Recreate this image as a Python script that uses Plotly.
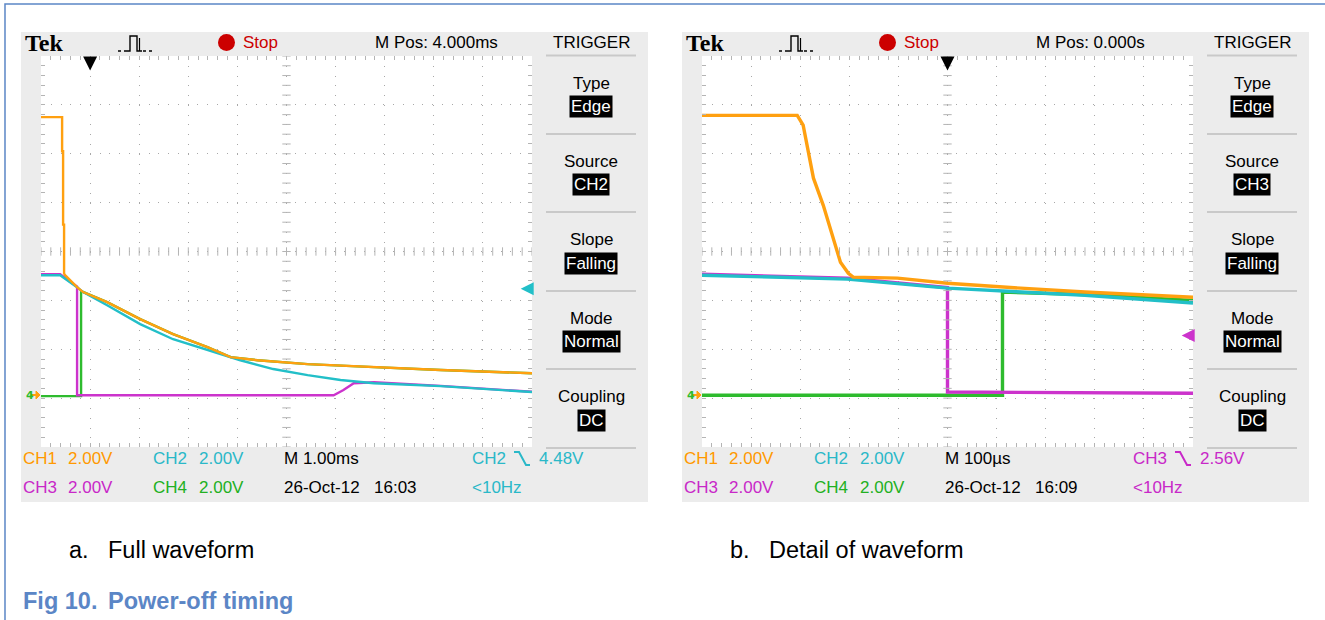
import numpy as np
import plotly.graph_objects as go

# ---------------- data ----------------
# (a) Full waveform: time in ms (trigger at 0), 2 V/div, volts
full_t_ch1 = [-1.0, -0.57, -0.57, -0.55, -0.55, -0.53, -0.53, -0.51, -0.265, -0.143, 0.347, 1.02, 1.69, 2.39, 2.86, 3.41, 4.43, 5.78, 7.14, 9.0]
full_v_ch1 = [11.5, 11.5, 10.1, 10.1, 7.1, 7.1, 5.1, 5.03, 4.54, 4.34, 3.93, 3.23, 2.62, 2.09, 1.68, 1.55, 1.39, 1.27, 1.15, 1.02]
full_t_ch2 = [-1.0, -0.61, -0.265, -0.143, 0.347, 1.02, 1.69, 2.39, 3.06, 3.73, 4.43, 5.10, 5.78, 7.14, 9.0]
full_v_ch2 = [5.03, 5.03, 4.54, 4.34, 3.80, 3.03, 2.41, 1.96, 1.55, 1.19, 0.94, 0.74, 0.61, 0.49, 0.25]
full_t_ch3 = [-1.0, -0.61, -0.265, -0.265, 4.96, 5.16, 5.37, 5.78, 7.14, 9.0]
full_v_ch3 = [5.07, 5.07, 4.56, 0.12, 0.12, 0.33, 0.61, 0.65, 0.50, 0.26]
full_t_ch4 = [-1.0, -0.184, -0.184, 0.347, 1.02, 1.69, 2.39, 2.86, 3.41, 4.43, 5.78, 7.14, 9.0]
full_v_ch4 = [0.08, 0.08, 4.38, 3.93, 3.23, 2.62, 2.09, 1.68, 1.55, 1.39, 1.27, 1.15, 1.02]
full_trig_t, full_trig_v = 0.0, 4.48

# (b) Detail of waveform: time in us (trigger at 0), volts
det_t_ch1 = [-500, -306, -294, -286, -273, -253, -233, -218, -202, -192, -102, 0, 149, 280, 500]
det_v_ch1 = [11.57, 11.57, 11.17, 10.35, 9.0, 7.89, 6.54, 5.56, 5.11, 4.95, 4.91, 4.70, 4.50, 4.34, 4.13]
det_t_ch2 = [-500, -320, -204, 0, 108, 280, 500]
det_v_ch2 = [5.03, 4.95, 4.87, 4.50, 4.38, 4.21, 3.89]
det_t_ch3 = [-500, -320, -204, 0, 0, 500]
det_v_ch3 = [5.07, 4.99, 4.91, 4.52, 0.25, 0.20]
det_t_ch4 = [-500, 112, 112, 280, 500]
det_v_ch4 = [0.12, 0.12, 4.34, 4.24, 4.0]
det_trig_t, det_trig_v = 0.0, 2.56

# axis ranges (10 x 8 divisions)
full_xrange = [-1.0, 9.0]
det_xrange = [-500.0, 500.0]
volt_range = [-2.0, 14.0]

# texts
menu_titles = ["Type", "Source", "Slope", "Mode", "Coupling"]
menu_values_a = ["Edge", "CH2", "Falling", "Normal", "DC"]
menu_values_b = ["Edge", "CH3", "Falling", "Normal", "DC"]
mpos_a, mpos_b = "M Pos: 4.000ms", "M Pos: 0.000s"
mscale_a, mscale_b = "M 1.00ms", "M 100µs"
date_a, time_a = "26-Oct-12", "16:03"
date_b, time_b = "26-Oct-12", "16:09"
trig_src_a, trig_lvl_a = "CH2", "4.48V"
trig_src_b, trig_lvl_b = "CH3", "2.56V"
caption_a = ("a.", "Full waveform")
caption_b = ("b.", "Detail of waveform")
fig_title = ("Fig 10.", "Power-off timing")

# ---------------- style ----------------
W, H = 1325, 620
C1, C2, C3, C4 = "#ffa010", "#22bfc8", "#cc33cc", "#2ebb2e"
T1, T2, T3, T4 = "#ff9900", "#2ab8c8", "#c828c8", "#22b022"
PANEL = "#ececec"
GRID_C = "#a8a8a8"
TICK_C = "#b4b4b4"
SEP_C = "#c9c9c9"
SCOPE_FONT = "Liberation Sans, Arial, sans-serif"
CAP_FONT = "Liberation Sans, Arial, sans-serif"
BLUE = "#5b86c6"
FS = 17

SHIFT = 661  # pixel offset of the second screenshot
GX0, GX1, GY0, GY1 = 41, 532, 56, 447


def px(x):
    return x / W


def py(y):
    return 1 - y / H


fig = go.Figure()

shapes = []
annotations = []


def txt(x, y, text, color="black", size=FS, font=SCOPE_FONT, xanchor="left", **kw):
    annotations.append(dict(x=px(x), y=py(y), xref="paper", yref="paper", text=text,
                            showarrow=False, xanchor=xanchor, yanchor="middle",
                            font=dict(family=font, size=size, color=color), **kw))


def rect(x0, y0, x1, y1, fill, line=None):
    shapes.append(dict(type="rect", xref="paper", yref="paper", x0=px(x0), x1=px(x1),
                       y0=py(y1), y1=py(y0), fillcolor=fill,
                       line=dict(width=0) if line is None else line, layer="below"))


def path(points, color, width=1.5, dash="solid"):
    d = "M " + " L ".join(f"{px(a):.5f},{py(b):.5f}" for a, b in points)
    shapes.append(dict(type="path", xref="paper", yref="paper", path=d,
                       line=dict(color=color, width=width, dash=dash), layer="above"))


# blue frame
path([(5, 620), (5, 4), (1325, 4)], BLUE, 1.5)

panels = [
    dict(off=0, xa="x", ya="y", xr=full_xrange, xd=1.0,
         data=[(full_t_ch4, full_v_ch4, C4), (full_t_ch3, full_v_ch3, C3),
               (full_t_ch2, full_v_ch2, C2), (full_t_ch1, full_v_ch1, C1)],
         lw=2.4, trig_t=full_trig_t, trig_v=full_trig_v, trig_col=C2,
         menu=menu_values_a, mpos=mpos_a, mscale=mscale_a, date=date_a, time=time_a,
         tsrc=trig_src_a, tlvl=trig_lvl_a, tcol=T2),
    dict(off=SHIFT, xa="x2", ya="y2", xr=det_xrange, xd=100.0,
         data=[(det_t_ch4, det_v_ch4, C4), (det_t_ch3, det_v_ch3, C3),
               (det_t_ch2, det_v_ch2, C2), (det_t_ch1, det_v_ch1, C1)],
         lw=3.4, trig_t=det_trig_t, trig_v=det_trig_v, trig_col=C3,
         menu=menu_values_b, mpos=mpos_b, mscale=mscale_b, date=date_b, time=time_b,
         tsrc=trig_src_b, tlvl=trig_lvl_b, tcol=T3),
]

for i, p in enumerate(panels):
    o = p["off"]
    # gray scope panel and white graticule area
    rect(21 + o, 32, 648 + o, 502, PANEL)
    rect(GX0 + o, GY0, GX1 + o, GY1, "white")
    # menu separators
    for yy in [55.5, 134, 212, 291, 369, 448]:
        path([(546 + o, yy), (636 + o, yy)], SEP_C, 2)
    # menu texts
    txt(591.5 + o, 42, "TRIGGER", xanchor="center")
    for k, (t, v) in enumerate(zip(menu_titles, p["menu"])):
        yt = 83 + 78.4 * k
        txt(591 + o, yt, t, xanchor="center")
        txt(591 + o, yt + 23.5, v, color="white", xanchor="center", bgcolor="black", borderpad=1)
    # top bar
    txt(23 + o, 43, "<b>Tek</b>", size=24, font="Liberation Serif, serif")
    path([(118 + o, 51), (127 + o, 51)], "black", 1.4, "dot")
    path([(127 + o, 51), (130 + o, 51), (130 + o, 36), (137 + o, 36), (137 + o, 51), (142 + o, 51)], "black", 1.4)
    path([(139.5 + o, 38), (139.5 + o, 51)], "black", 1.2)
    path([(143 + o, 51), (155 + o, 51)], "black", 1.4, "dot")
    shapes.append(dict(type="circle", xref="paper", yref="paper", x0=px(218 + o), x1=px(235 + o),
                       y0=py(51), y1=py(34), fillcolor="#cc0000", line=dict(width=0)))
    txt(241 + o, 42, "Stop", color="#cc0000")
    txt(373 + o, 42, p["mpos"])
    # bottom readouts
    txt(21 + o, 458, "CH1", color=T1)
    txt(66 + o, 458, "2.00V", color=T1)
    txt(151 + o, 458, "CH2", color=T2)
    txt(197 + o, 458, "2.00V", color=T2)
    txt(282 + o, 458, p["mscale"])
    txt(21 + o, 487, "CH3", color=T3)
    txt(66 + o, 487, "2.00V", color=T3)
    txt(151 + o, 487, "CH4", color=T4)
    txt(197 + o, 487, "2.00V", color=T4)
    txt(282 + o, 487, p["date"])
    txt(372 + o, 487, p["time"])
    txt(470 + o, 458, p["tsrc"], color=p["tcol"])
    path([(514 + o, 452), (519 + o, 452), (526 + o, 465), (530 + o, 465)], p["tcol"], 2)
    txt(537 + o, 458, p["tlvl"], color=p["tcol"])
    txt(470 + o, 487, "&lt;10Hz", color=p["tcol"])
    # ground marker
    txt(24 + o, 395, "<b>4</b>", color=C4, size=11, font="DejaVu Sans")
    path([(31 + o, 395), (37 + o, 395)], C1, 2)
    shapes.append(dict(type="path", xref="paper", yref="paper",
                       path=f"M {px(36+o)},{py(391)} L {px(40+o)},{py(395)} L {px(36+o)},{py(399)} Z",
                       fillcolor=C1, line=dict(color=C1, width=1)))

    # traces
    for tt, vv, col in p["data"]:
        fig.add_trace(go.Scatter(x=tt, y=vv, mode="lines", line=dict(color=col, width=p["lw"]),
                                 xaxis=p["xa"], yaxis=p["ya"], hoverinfo="skip", showlegend=False))
    # centre cross tick marks
    x0, x1 = p["xr"]
    xc = (x0 + x1) / 2
    xs = np.arange(x0, x1 + 1e-9, p["xd"] / 5)
    ys = np.arange(volt_range[0], volt_range[1] + 1e-9, 0.4)
    yc = sum(volt_range) / 2
    fig.add_trace(go.Scatter(x=xs, y=[yc] * len(xs), mode="markers", xaxis=p["xa"], yaxis=p["ya"],
                             marker=dict(symbol="line-ns", size=6, line=dict(color=TICK_C, width=1)),
                             hoverinfo="skip", showlegend=False))
    fig.add_trace(go.Scatter(x=[xc] * len(ys), y=ys, mode="markers", xaxis=p["xa"], yaxis=p["ya"],
                             marker=dict(symbol="line-ew", size=6, line=dict(color=TICK_C, width=1)),
                             hoverinfo="skip", showlegend=False))
    # trigger position arrow (top) and trigger level arrow (right)
    ydom = "y domain" if i == 0 else "y2 domain"
    annotations.append(dict(x=p["trig_t"], y=0.963, xref=p["xa"], yref=ydom, ax=0, ay=-13,
                            showarrow=True, arrowhead=2, arrowsize=1.4, arrowwidth=2,
                            arrowcolor="black", text="", standoff=0))
    xdom = "x domain" if i == 0 else "x2 domain"
    annotations.append(dict(x=0.977, y=p["trig_v"], xref=xdom, yref=p["ya"], ax=12, ay=0,
                            showarrow=True, arrowhead=2, arrowsize=1.3, arrowwidth=2,
                            arrowcolor=p["trig_col"], text="", standoff=0))

# captions
txt(67, 550, caption_a[0], size=23.5, font=CAP_FONT)
txt(106, 550, caption_a[1], size=23.5, font=CAP_FONT)
txt(728, 550, caption_b[0], size=23.5, font=CAP_FONT)
txt(767, 550, caption_b[1], size=23.5, font=CAP_FONT)
txt(21, 601, "<b>" + fig_title[0] + "</b>", color=BLUE, size=23.5, font=CAP_FONT)
txt(106, 601, "<b>" + fig_title[1] + "</b>", color=BLUE, size=23.5, font=CAP_FONT)


def axis_cfg(rng, dtick, domain, anchor):
    return dict(range=rng, domain=domain, anchor=anchor, dtick=dtick, tick0=rng[0],
                showgrid=True, gridcolor=GRID_C, griddash="1px,8.78px", gridwidth=1,
                zeroline=False, showline=False, showticklabels=False,
                ticks="inside", ticklen=4, tickcolor=TICK_C, tickwidth=1, mirror="ticks",
                minor=dict(dtick=dtick / 5, tick0=rng[0], ticks="inside", ticklen=4,
                           tickcolor=TICK_C, tickwidth=1, showgrid=False),
                fixedrange=True)


ydom = [1 - GY1 / H, 1 - GY0 / H]
fig.update_layout(
    width=W, height=H, autosize=False,
    margin=dict(l=0, r=0, t=0, b=0),
    paper_bgcolor="white", plot_bgcolor="rgba(0,0,0,0)",
    showlegend=False,
    xaxis=axis_cfg(full_xrange, 1.0, [GX0 / W, GX1 / W], "y"),
    yaxis=axis_cfg(volt_range, 2.0, ydom, "x"),
    xaxis2=axis_cfg(det_xrange, 100.0, [(GX0 + SHIFT) / W, (GX1 + SHIFT) / W], "y2"),
    yaxis2=axis_cfg(volt_range, 2.0, ydom, "x2"),
    shapes=shapes,
    annotations=annotations,
)

fig.write_html("out.html")
